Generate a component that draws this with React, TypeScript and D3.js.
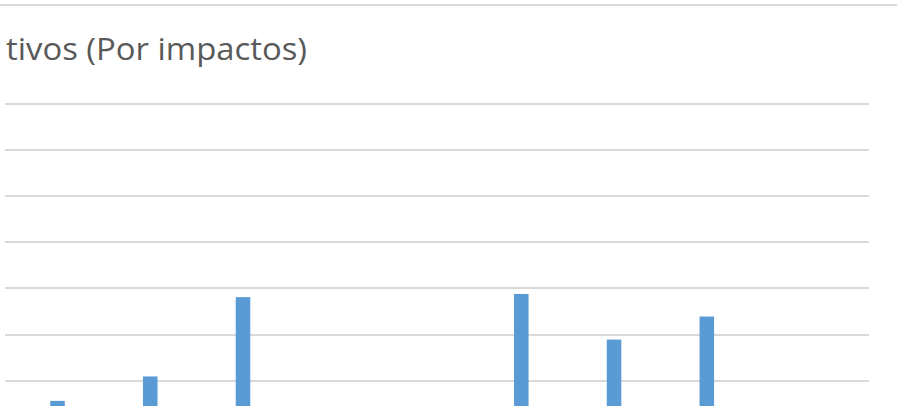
import React from "react";
import * as d3 from "d3";

const categories = ["C1", "C2", "C3", "C4", "C5", "C6", "C7", "C8", "C9"];
const values = [5.6, 10.9, 28.1, 0, 0, 28.8, 18.9, 23.9, 0];
const gridTicks = [10, 20, 30, 40, 50, 60, 70];
const titleText = "tivos (Por impactos)";

const W = 897;
const H = 406;

export default function App() {
  const x = d3
    .scaleBand<string>()
    .domain(categories)
    .range([11.1, 11.1 + 92.76 * categories.length])
    .paddingInner(0.843)
    .paddingOuter(0.4215);
  const y = d3.scaleLinear().domain([0, 70]).range([426.7, 104]);

  return (
    <svg
      width={W}
      height={H}
      style={{ position: "absolute", left: 0, top: 0, background: "#fff" }}
    >
      <rect x={0} y={0} width={W} height={H} fill="#fff" />
      <line x1={0} x2={W} y1={5} y2={5} stroke="#d9d9d9" strokeWidth={2} />
      <text
        x={6}
        y={60}
        fontFamily="'Open Sans', 'Noto Sans', sans-serif"
        fontSize={30.5}
        fill="#595959"
        textLength={301}
        lengthAdjust="spacingAndGlyphs"
      >
        {titleText}
      </text>
      {gridTicks.map((t) => (
        <line
          key={t}
          x1={5}
          x2={869}
          y1={Math.round(y(t))}
          y2={Math.round(y(t))}
          stroke="#d9d9d9"
          strokeWidth={2}
        />
      ))}
      {categories.map((c, i) =>
        values[i] > 0 ? (
          <rect
            key={c}
            x={x(c)}
            y={y(values[i])}
            width={x.bandwidth()}
            height={y(0) - y(values[i])}
            fill="#5b9bd5"
          />
        ) : null
      )}
    </svg>
  );
}
